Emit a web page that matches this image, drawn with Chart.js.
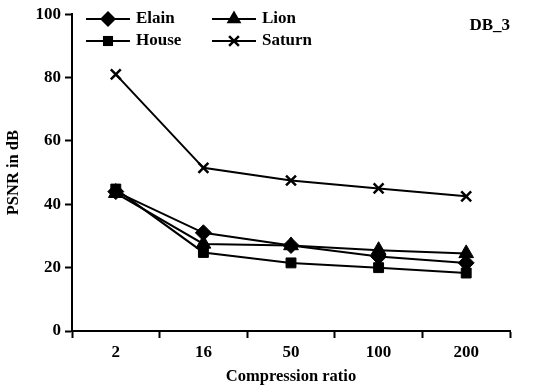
<!DOCTYPE html>
<html>
<head>
<meta charset="utf-8">
<script src="https://cdn.jsdelivr.net/npm/chart.js@4"></script>
<style>
  html, body { margin: 0; padding: 0; background: #fff; }
  #wrap { width: 554px; height: 391px; }
</style>
</head>
<body>
<div id="wrap"><canvas id="psnrChart" width="554" height="391"></canvas></div>
<script>
const ratios = ["2", "16", "50", "100", "200"];
const elain = [44, 31, 27, 23.5, 21.5];
const lion = [43.5, 27.5, 27, 25.5, 24.5];
const house = [44.8, 24.8, 21.5, 20, 18.3];
const saturn = [81, 51.5, 47.5, 45, 42.5];
const yTicks = [0, 20, 40, 60, 80, 100];

const FONT = "'Liberation Serif', 'DejaVu Serif', serif";

function series(label, data, pointStyle, radius) {
  return {
    label,
    data,
    borderColor: "#000",
    backgroundColor: "#000",
    borderWidth: 2,
    pointStyle,
    pointRadius: radius,
    pointBorderWidth: pointStyle === "crossRot" ? 2.5 : 1,
    pointBackgroundColor: "#000",
    pointBorderColor: "#000",
    tension: 0,
  };
}

function marker(ctx, style, r, x, y) {
  ctx.beginPath();
  if (style === "rectRot") {
    ctx.moveTo(x, y - r);
    ctx.lineTo(x + r, y);
    ctx.lineTo(x, y + r);
    ctx.lineTo(x - r, y);
    ctx.closePath();
    ctx.fill();
  } else if (style === "triangle") {
    ctx.moveTo(x, y - r);
    ctx.lineTo(x + r * 0.87, y + r * 0.5);
    ctx.lineTo(x - r * 0.87, y + r * 0.5);
    ctx.closePath();
    ctx.fill();
  } else if (style === "rect") {
    const s = r * 0.72;
    ctx.fillRect(x - s, y - s, s * 2, s * 2);
  } else {
    const s = r * 0.7;
    ctx.lineWidth = 2.5;
    ctx.moveTo(x - s, y - s);
    ctx.lineTo(x + s, y + s);
    ctx.moveTo(x + s, y - s);
    ctx.lineTo(x - s, y + s);
    ctx.stroke();
  }
}

// legend + corner label drawn inside the plot area
const legendPlugin = {
  id: "innerLegend",
  afterDraw(chart) {
    const c = chart.ctx;
    const entries = [
      { ds: 0, x: 86, y: 19 },
      { ds: 1, x: 212, y: 19 },
      { ds: 2, x: 86, y: 41 },
      { ds: 3, x: 212, y: 41 },
    ];
    c.save();
    entries.forEach((e) => {
      const ds = chart.data.datasets[e.ds];
      c.strokeStyle = "#000";
      c.fillStyle = "#000";
      c.lineWidth = 2;
      c.beginPath();
      c.moveTo(e.x, e.y);
      c.lineTo(e.x + 44, e.y);
      c.stroke();
      marker(c, ds.pointStyle, ds.pointRadius, e.x + 22, e.y);
      c.font = "bold 17px " + FONT;
      c.textBaseline = "middle";
      c.textAlign = "left";
      c.fillText(ds.label, e.x + 50, e.y);
    });
    c.font = "bold 17px " + FONT;
    c.textAlign = "right";
    c.textBaseline = "middle";
    c.fillText("DB_3", 510, 26);
    c.restore();
  },
};

const ctx = document.getElementById("psnrChart").getContext("2d");
new Chart(ctx, {
  type: "line",
  data: {
    labels: ratios,
    datasets: [
      series("Elain", elain, "rectRot", 8),
      series("Lion", lion, "triangle", 8.5),
      series("House", house, "rect", 7),
      series("Saturn", saturn, "crossRot", 7),
    ],
  },
  plugins: [legendPlugin],
  options: {
    responsive: false,
    animation: false,
    layout: { padding: { top: 6, right: 44, left: 4, bottom: 4 } },
    plugins: {
      legend: { display: false },
      tooltip: { enabled: false },
    },
    scales: {
      x: {
        type: "category",
        offset: true,
        grid: {
          offset: true,
          drawOnChartArea: false,
          drawTicks: true,
          tickLength: 7,
          tickWidth: 2,
          color: "#000",
        },
        border: { color: "#000", width: 2 },
        ticks: {
          color: "#000",
          font: { family: FONT, size: 17, weight: "bold" },
          padding: 4,
          maxRotation: 0,
        },
        title: {
          display: true,
          text: "Compression ratio",
          color: "#000",
          font: { family: FONT, size: 16.5, weight: "bold" },
          padding: { top: 0, bottom: 0 },
        },
        afterFit(scale) {
          scale.height = 56;
        },
      },
      y: {
        min: 0,
        max: 100,
        afterBuildTicks(scale) {
          scale.ticks = yTicks.map((v) => ({ value: v }));
        },
        grid: {
          drawOnChartArea: false,
          drawTicks: true,
          tickLength: 7,
          tickWidth: 2,
          color: "#000",
        },
        border: { color: "#000", width: 2 },
        ticks: {
          color: "#000",
          font: { family: FONT, size: 17, weight: "bold" },
          padding: 4,
        },
        title: {
          display: true,
          text: "PSNR in dB",
          color: "#000",
          font: { family: FONT, size: 16.5, weight: "bold" },
          padding: { top: 0, bottom: 2 },
        },
        afterFit(scale) {
          scale.width = 68;
        },
      },
    },
  },
});
</script>
</body>
</html>
